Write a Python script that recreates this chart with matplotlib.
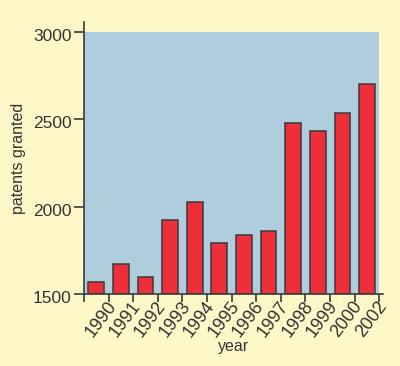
import matplotlib
matplotlib.use("Agg")
import matplotlib.pyplot as plt
from matplotlib.patches import Rectangle
from matplotlib.transforms import ScaledTranslation
import numpy as np

years = ["1990", "1991", "1992", "1993", "1994", "1995", "1996", "1997",
         "1998", "1999", "2000", "2002"]
patents = [1570, 1673, 1598, 1922, 2028, 1792, 1838, 1859, 2479, 2431, 2538, 2704]
yticks = [1500, 2000, 2500, 3000]

bg = "#FEF8C8"
blue = "#B0CDDD"
red = "#EE2F3A"
dark = "#333333"

plt.rcParams['font.family'] = ['Liberation Sans', 'DejaVu Sans']

fig = plt.figure(figsize=(4.0, 3.66), dpi=100, facecolor=bg)
ax = fig.add_axes([0.21, 0.1967, 0.7475, 0.7433])
ax.set_facecolor(bg)

n = len(years)
x = np.arange(n)
ax.add_patch(Rectangle((-0.5, 1500), n, 1500, facecolor=blue, edgecolor='none', zorder=0))
ax.bar(x, np.array(patents) - 1500, bottom=1500, width=0.64, color=red,
       edgecolor="#3A3A3A", linewidth=1.1, zorder=2)

ax.set_xlim(-0.5, n - 0.5 + 0.15)
ax.set_ylim(1500, 3057)

for s in ['top', 'right']:
    ax.spines[s].set_visible(False)
for s in ['left', 'bottom']:
    ax.spines[s].set_color("#3A3A3A")
    ax.spines[s].set_linewidth(1.2)

ax.set_yticks(yticks)
ax.set_yticklabels([str(v) for v in yticks], fontsize=12.5, color=dark)
ax.tick_params(axis='y', length=7, width=1.2, color="#3A3A3A", pad=2)
yoff = ScaledTranslation(0, -0.03, fig.dpi_scale_trans)
for lab in ax.get_yticklabels():
    lab.set_transform(lab.get_transform() + yoff)

ax.set_xticks(np.arange(-0.5, n, 1.0))
ax.set_xticklabels([])
ax.tick_params(axis='x', which='major', length=6, width=1.2, color="#3A3A3A")
ax.set_xticks(x, minor=True)
ax.set_xticklabels(years, minor=True, rotation=53, ha='right', va='top',
                   rotation_mode='anchor', fontsize=13, color=dark)
ax.tick_params(axis='x', which='minor', length=0, pad=3)
off = ScaledTranslation(0.10, 0, fig.dpi_scale_trans)
for lab in ax.get_xticklabels(minor=True):
    lab.set_transform(lab.get_transform() + off)

ax.set_ylabel("patents granted", fontsize=11.5, color=dark, labelpad=5)
ax.set_xlabel("year", fontsize=11.5, color=dark, labelpad=-1)

fig.savefig("out.png", dpi=100, facecolor=bg)
